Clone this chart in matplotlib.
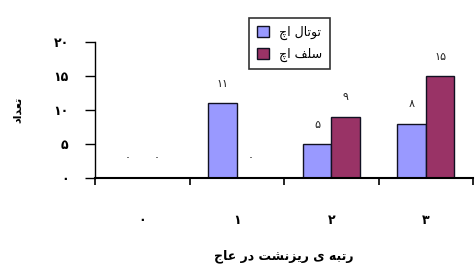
import numpy as np
import matplotlib
matplotlib.use("Agg")
import matplotlib.pyplot as plt

# data
categories = [0, 1, 2, 3]
total_etch = [0, 11, 5, 8]
self_etch = [0, 0, 9, 15]
yticks = [0, 5, 10, 15, 20]

label_total = "توتال اچ"
label_self = "سلف اچ"
xlabel = "رتبه ی ریزنشت در عاج"
ylabel = "تعداد"

# minimal Persian shaping (matplotlib does no Arabic layout)
FORMS = {
    "ا": ("\uFE8D", "\uFE8E", None, None),
    "ب": ("\uFE8F", "\uFE90", "\uFE91", "\uFE92"),
    "ت": ("\uFE95", "\uFE96", "\uFE97", "\uFE98"),
    "ج": ("\uFE9D", "\uFE9E", "\uFE9F", "\uFEA0"),
    "چ": ("\uFB7A", "\uFB7B", "\uFB7C", "\uFB7D"),
    "د": ("\uFEA9", "\uFEAA", None, None),
    "ر": ("\uFEAD", "\uFEAE", None, None),
    "ز": ("\uFEAF", "\uFEB0", None, None),
    "س": ("\uFEB1", "\uFEB2", "\uFEB3", "\uFEB4"),
    "ش": ("\uFEB5", "\uFEB6", "\uFEB7", "\uFEB8"),
    "ع": ("\uFEC9", "\uFECA", "\uFECB", "\uFECC"),
    "ف": ("\uFED1", "\uFED2", "\uFED3", "\uFED4"),
    "ل": ("\uFEDD", "\uFEDE", "\uFEDF", "\uFEE0"),
    "ن": ("\uFEE5", "\uFEE6", "\uFEE7", "\uFEE8"),
    "ه": ("\uFEE9", "\uFEEA", "\uFEEB", "\uFEEC"),
    "و": ("\uFEED", "\uFEEE", None, None),
    "ی": ("\uFBFC", "\uFBFD", "\uFBFE", "\uFBFF"),
}


def joins_next(ch):
    return ch in FORMS and FORMS[ch][2] is not None


def shape(text):
    out = []
    for i, ch in enumerate(text):
        if ch not in FORMS:
            out.append(ch)
            continue
        prev = text[i - 1] if i > 0 else " "
        nxt = text[i + 1] if i + 1 < len(text) else " "
        from_prev = joins_next(prev)
        to_next = joins_next(ch) and nxt in FORMS
        iso, fin, ini, med = FORMS[ch]
        if from_prev and to_next:
            out.append(med)
        elif from_prev:
            out.append(fin)
        elif to_next:
            out.append(ini)
        else:
            out.append(iso)
    return "".join(out)[::-1]


def fa_num(n):
    return str(n).translate(str.maketrans("0123456789", "۰۱۲۳۴۵۶۷۸۹"))


plt.rcParams['font.family'] = ['DejaVu Sans']

fig = plt.figure(figsize=(4.75, 2.75), dpi=100)
ax = fig.add_axes([0.2, 0.353, 0.796, 0.494])

x = np.arange(len(categories))
w = 0.3
b1 = ax.bar(x - w / 2, total_etch, w, color='#9999FF', edgecolor='#111122',
            linewidth=1, label=shape(label_total))
b2 = ax.bar(x + w / 2, self_etch, w, color='#993366', edgecolor='#111122',
            linewidth=1, label=shape(label_self))

for bars, vals in ((b1, total_etch), (b2, self_etch)):
    for r, v in zip(bars, vals):
        ax.annotate(fa_num(v), (r.get_x() + r.get_width() / 2, v),
                    xytext=(0, 14), textcoords='offset points',
                    ha='center', va='center', fontsize=8, color='#222222')

ax.set_xlim(-0.5, 3.5)
ax.set_ylim(0, 20)
ax.set_yticks(yticks)
ax.set_yticklabels([fa_num(t) for t in yticks], fontsize=9, fontweight='bold')
ax.set_xticks(x)
ax.set_xticklabels([fa_num(c) for c in categories], fontsize=9, fontweight='bold')
ax.set_xticks(np.arange(-0.5, 3.6, 1), minor=True)
ax.tick_params(axis='x', which='major', length=0, pad=26)
ax.tick_params(axis='x', which='minor', length=5, width=1.2, direction='out')
ax.tick_params(axis='y', length=7, width=1, pad=12)

for s in ('top', 'right'):
    ax.spines[s].set_visible(False)
ax.spines['left'].set_linewidth(1)
ax.spines['bottom'].set_linewidth(1.5)

ax.set_xlabel(shape(xlabel), fontsize=9, fontweight='bold', labelpad=16)
ax.set_ylabel(shape(ylabel), fontsize=8, fontweight='bold', labelpad=22)

leg = fig.legend(loc='upper left', bbox_to_anchor=(0.512, 0.956), fontsize=9,
                 frameon=True, fancybox=False, edgecolor='black',
                 handlelength=1.0, handleheight=1.0, borderpad=0.6,
                 labelspacing=0.6, handletextpad=0.8)
leg.get_frame().set_linewidth(1.2)

fig.savefig("out.png", dpi=100)
